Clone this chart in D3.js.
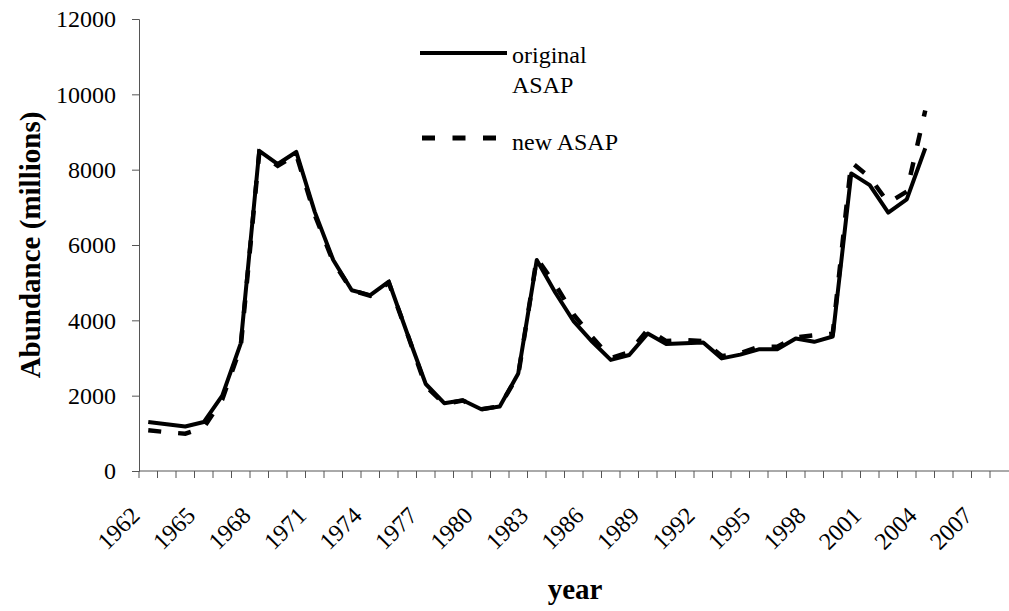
<!DOCTYPE html>
<html lang="en">
<head>
    <meta charset="UTF-8">
    <title>Abundance - original vs new ASAP</title>
    <script src="https://cdnjs.cloudflare.com/ajax/libs/d3/7.8.5/d3.min.js"></script>
    <style>
        body {
            margin: 0;
            padding: 0;
            background-color: #ffffff;
        }
        #chart {
            width: 1009px;
            height: 611px;
        }
    </style>
</head>
<body>
    <div id="chart"></div>
    <script>
        // categories on the x axis (one per year, the last few without data)
        const years = [
            "1962","1963","1964","1965","1966","1967","1968","1969","1970","1971",
            "1972","1973","1974","1975","1976","1977","1978","1979","1980","1981",
            "1982","1983","1984","1985","1986","1987","1988","1989","1990","1991",
            "1992","1993","1994","1995","1996","1997","1998","1999","2000","2001",
            "2002","2003","2004","2005","2006","2007","2008"
        ];
        const yearLabels = ["1962","1965","1968","1971","1974","1977","1980","1983",
            "1986","1989","1992","1995","1998","2001","2004","2007"];
        const yTicks = [0, 2000, 4000, 6000, 8000, 10000, 12000];

        // abundance (millions), 1962-2004
        const originalASAP = [
            1300, 1240, 1180, 1300, 2000, 3390, 8500, 8150, 8470, 6880,
            5600, 4800, 4670, 5030, 3650, 2310, 1800, 1880, 1640, 1710,
            2590, 5600, 4740, 3970, 3430, 2950, 3080, 3650, 3370, 3390,
            3410, 2990, 3090, 3230, 3230, 3520, 3430, 3570, 7900, 7590,
            6860, 7210, 8570
        ];
        const newASAP = [
            1080, 1030, 990, 1150, 1900, 3300, 8450, 8100, 8400, 6800,
            5550, 4800, 4650, 5000, 3650, 2250, 1780, 1870, 1640, 1720,
            2550, 5650, 4950, 4150, 3550, 3000, 3150, 3750, 3450, 3480,
            3450, 3050, 3130, 3300, 3300, 3550, 3600, 3650, 8200, 7800,
            7120, 7420, 9570
        ];

        const width = 1009, height = 611;
        const plotLeft = 139, plotRight = 1008.5, plotTop = 19, plotBottom = 471;
        const axisColor = "#555";
        const serif = "'Liberation Serif', 'DejaVu Serif', serif";

        const svg = d3.select("#chart")
            .append("svg")
            .attr("width", width)
            .attr("height", height)
            .attr("viewBox", [0, 0, width, height])
            .attr("font-family", serif);

        const x = d3.scaleBand()
            .domain(years)
            .range([plotLeft, plotRight])
            .padding(0);

        const y = d3.scaleLinear()
            .domain([0, 12000])
            .range([plotBottom, plotTop]);

        const cx = yr => x(yr) + x.bandwidth() / 2;

        // y axis
        const yAxis = svg.append("g")
            .attr("transform", `translate(${plotLeft},0)`)
            .call(d3.axisLeft(y).tickValues(yTicks).tickSize(7).tickPadding(16).tickFormat(d3.format("d")))
            .attr("font-family", serif)
            .attr("font-size", 24);
        yAxis.select(".domain").attr("stroke", axisColor);
        yAxis.selectAll(".tick line").attr("stroke", axisColor);
        yAxis.selectAll(".tick text").attr("fill", "#000");

        // x axis: ticks between categories
        const xg = svg.append("g")
            .attr("font-size", 24);
        xg.append("line")
            .attr("x1", plotLeft).attr("x2", width)
            .attr("y1", plotBottom).attr("y2", plotBottom)
            .attr("stroke", axisColor);
        xg.selectAll("line.tick")
            .data(years)
            .join("line")
            .attr("class", "tick")
            .attr("x1", d => x(d)).attr("x2", d => x(d))
            .attr("y1", plotBottom).attr("y2", plotBottom + 7)
            .attr("stroke", axisColor);
        xg.selectAll("text")
            .data(yearLabels)
            .join("text")
            .attr("text-anchor", "end")
            .attr("transform", d => `translate(${cx(d) - 7},${plotBottom + 46}) rotate(-45)`)
            .text(d => d);

        // lines
        const line = d3.line()
            .x((d, i) => cx(years[i]))
            .y(d => y(d));

        svg.append("path")
            .datum(newASAP)
            .attr("fill", "none")
            .attr("stroke", "#000")
            .attr("stroke-width", 4.5)
            .attr("stroke-dasharray", "13,17")
            .attr("d", line);

        svg.append("path")
            .datum(originalASAP)
            .attr("fill", "none")
            .attr("stroke", "#000")
            .attr("stroke-width", 4)
            .attr("stroke-linejoin", "round")
            .attr("d", line);

        // axis titles
        svg.append("text")
            .attr("transform", `translate(40,${(plotTop + plotBottom) / 2}) rotate(-90)`)
            .attr("text-anchor", "middle")
            .attr("font-size", 29)
            .attr("font-weight", "bold")
            .text("Abundance (millions)");

        svg.append("text")
            .attr("x", 575)
            .attr("y", 599)
            .attr("text-anchor", "middle")
            .attr("font-size", 29)
            .attr("font-weight", "bold")
            .text("year");

        // legend
        const legend = svg.append("g")
            .attr("font-size", 24);
        legend.append("line")
            .attr("x1", 420).attr("x2", 507)
            .attr("y1", 53).attr("y2", 53)
            .attr("stroke", "#000").attr("stroke-width", 4);
        legend.append("text")
            .attr("x", 512).attr("y", 63)
            .text("original");
        legend.append("text")
            .attr("x", 512).attr("y", 93)
            .text("ASAP");
        legend.append("line")
            .attr("x1", 422).attr("x2", 497)
            .attr("y1", 138).attr("y2", 138)
            .attr("stroke", "#000").attr("stroke-width", 5)
            .attr("stroke-dasharray", "13,17.5");
        legend.append("text")
            .attr("x", 512).attr("y", 150)
            .text("new ASAP");
    </script>
</body>
</html>
